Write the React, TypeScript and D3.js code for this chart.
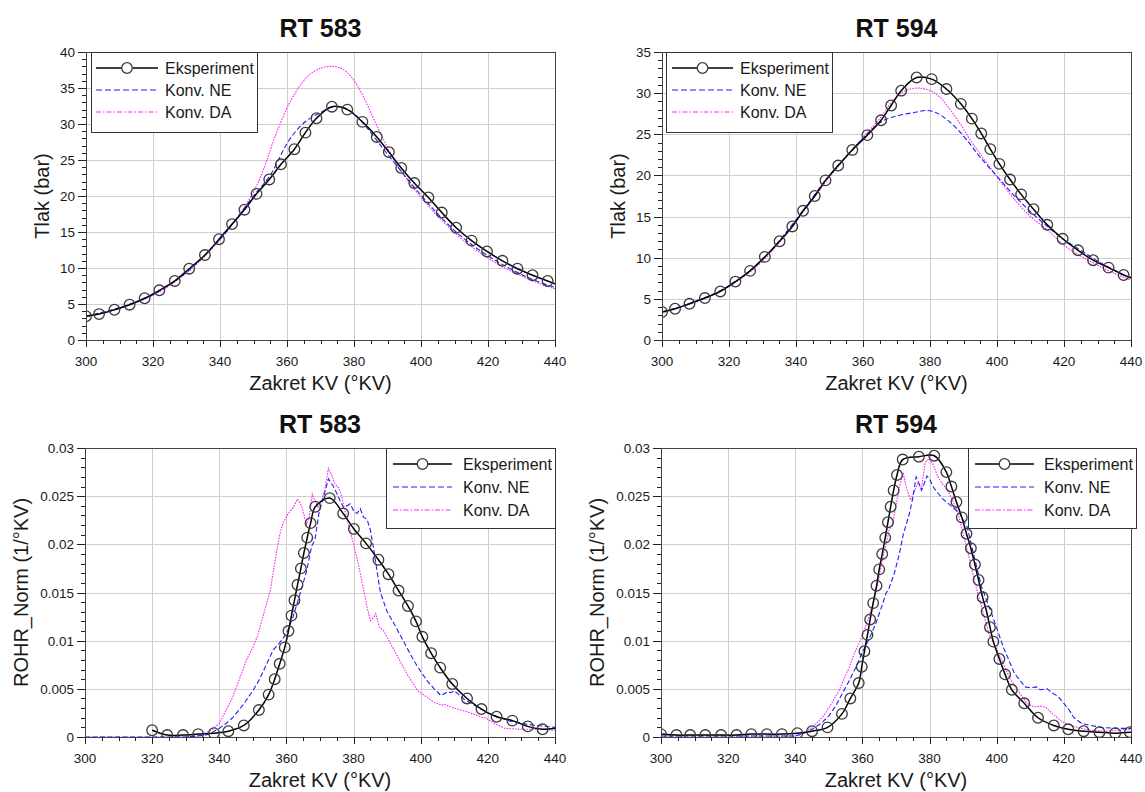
import React from 'react';
import * as d3 from 'd3';

// ---------- shared axis / text data ----------
const X_DOMAIN: [number, number] = [300, 440];
const X_TICKS = [300, 320, 340, 360, 380, 400, 420, 440];
const LEGEND_LABELS = ['Eksperiment', 'Konv. NE', 'Konv. DA'];
const X_LABEL = 'Zakret KV (°KV)';
const Y_LABEL_P = 'Tlak (bar)';
const Y_LABEL_R = 'ROHR_Norm (1/°KV)';
const TITLE_583 = 'RT 583';
const TITLE_594 = 'RT 594';
const P_TICKS_583 = [0, 5, 10, 15, 20, 25, 30, 35, 40];
const P_TICKS_594 = [0, 5, 10, 15, 20, 25, 30, 35];
const R_TICKS = [0, 0.005, 0.01, 0.015, 0.02, 0.025, 0.03];

// ---------- RT 583 pressure ----------
const P583_EXP_X = [300, 303.9, 308.5, 313, 317.5, 321.9, 326.5, 330.8, 335.5, 339.7, 343.6, 347.3, 350.9, 354.7, 358.2, 362.2, 365.5, 368.8, 373.4, 378, 382.5, 386.8, 390.4, 394.1, 398, 402.2, 406.2, 410.5, 415.1, 419.7, 424.3, 428.8, 433.3, 437.8];
const P583_EXP_Y = [3.3, 3.6, 4.2, 4.9, 5.8, 6.9, 8.2, 9.9, 11.8, 14.0, 16.1, 18.1, 20.3, 22.3, 24.4, 26.5, 28.8, 30.8, 32.4, 32.0, 30.3, 28.2, 26.1, 23.9, 21.8, 19.8, 17.7, 15.6, 13.8, 12.3, 11.0, 9.9, 9.0, 8.2];
const P583_EXP_TAIL_X = [440];
const P583_EXP_TAIL_Y = [7.8];
const P583_NE_X = [300, 310, 320, 330, 340, 345, 350, 355, 360, 363, 366, 370, 374, 378, 382, 386, 390, 395, 400, 405, 410, 415, 420, 425, 430, 435, 440];
const P583_NE_Y = [3.3, 4.5, 6.3, 9.4, 14.0, 16.9, 20.0, 22.9, 27.3, 29.2, 30.5, 31.6, 32.4, 32.1, 30.5, 28.2, 25.8, 22.9, 20.1, 17.5, 15.2, 13.3, 11.7, 10.3, 9.1, 8.1, 7.3];
const P583_DA_X = [300, 310, 320, 330, 340, 345, 349.2, 352.5, 356.8, 361.2, 365.5, 368.8, 372.5, 376.3, 379.6, 382.8, 386.1, 389.4, 392.6, 397, 400, 405, 410, 415, 420, 425, 430, 435, 440];
const P583_DA_Y = [3.2, 4.4, 6.2, 9.3, 13.9, 16.9, 19.9, 23.1, 28.7, 33.3, 36.3, 37.5, 38.0, 37.7, 36.3, 33.8, 30.5, 27.3, 24.5, 21.6, 19.8, 17.2, 14.9, 13.0, 11.4, 10.0, 8.9, 7.9, 7.1];

// ---------- RT 594 pressure ----------
const P594_EXP_X = [300, 303.9, 308.2, 312.8, 317.4, 321.9, 326.3, 330.7, 335.1, 338.9, 342.1, 345.6, 348.8, 352.6, 356.8, 361.3, 365.4, 368.4, 371.4, 376, 380.5, 384.9, 389.2, 392.5, 395.3, 398, 400.7, 403.9, 407.2, 410.9, 415, 419.6, 424.2, 428.7, 433.3, 437.8];
const P594_EXP_Y = [3.4, 3.8, 4.4, 5.1, 5.9, 7.1, 8.4, 10.1, 12.0, 13.8, 15.7, 17.5, 19.4, 21.2, 23.1, 24.9, 26.7, 28.5, 30.3, 31.9, 31.7, 30.5, 28.7, 26.9, 25.1, 23.2, 21.4, 19.5, 17.7, 15.9, 14.0, 12.3, 10.9, 9.7, 8.8, 7.9];
const P594_EXP_TAIL_X = [440];
const P594_EXP_TAIL_Y = [7.6];
const P594_NE_X = [300, 310, 320, 330, 340, 350, 360, 365, 368, 372, 376, 379, 382, 385, 388, 391, 395, 400, 405, 410, 415, 420, 425, 430, 435, 440];
const P594_NE_Y = [3.4, 4.7, 6.6, 9.8, 14.6, 20.0, 24.5, 26.4, 27.0, 27.4, 27.7, 27.9, 27.6, 26.8, 25.7, 24.3, 22.2, 19.9, 17.6, 15.6, 13.8, 12.2, 10.9, 9.6, 8.5, 7.5];
const P594_DA_X = [300, 310, 320, 330, 340, 350, 360, 365, 368, 371, 374, 377, 380, 383, 386, 389, 392, 395, 398, 401, 405, 410, 415, 420, 425, 430, 435, 440];
const P594_DA_Y = [3.3, 4.6, 6.5, 9.6, 14.4, 19.8, 24.6, 26.9, 28.6, 29.9, 30.5, 30.6, 30.3, 29.5, 28.0, 26.3, 24.3, 22.6, 20.9, 19.3, 17.2, 15.0, 13.4, 11.5, 10.2, 9.1, 8.1, 7.3];

// ---------- RT 583 ROHR ----------
const R583_EXP_X = [320, 324.5, 329.2, 333.7, 338.4, 342.7, 347.3, 351.8, 354.7, 356.5, 358.0, 359.5, 360.6, 361.5, 362.4, 363.3, 364.3, 365.2, 366.2, 367.2, 368.6, 372.9, 376.9, 380.1, 383.7, 387.4, 390.4, 393.4, 396.2, 398.6, 400.5, 403.1, 405.8, 409.4, 413.8, 418.1, 422.6, 427.3, 431.9, 436.3];
const R583_EXP_Y = [0.0007, 0.0002, 0.0002, 0.0003, 0.0004, 0.0006, 0.0012, 0.0028, 0.0044, 0.006, 0.0076, 0.0093, 0.011, 0.0126, 0.0142, 0.0158, 0.0175, 0.0191, 0.0207, 0.0222, 0.0239, 0.0248, 0.0232, 0.0216, 0.0201, 0.0184, 0.0169, 0.0152, 0.0136, 0.012, 0.0104, 0.0087, 0.0072, 0.0055, 0.004, 0.0029, 0.0021, 0.0017, 0.0011, 0.0008];
const R583_EXP_TAIL_X = [440];
const R583_EXP_TAIL_Y = [0.0009];
const R583_NE_X = [300, 330, 336, 338, 340, 342, 344, 347, 350, 352, 354, 356, 358, 360, 362, 364, 366, 367.5, 368.5, 369.8, 371, 372.5, 374, 375, 376, 377, 378, 379, 380, 381, 382, 383, 384, 385, 386, 387, 388, 390, 392, 394, 396, 398, 400, 402, 404, 406, 407, 408, 409, 410, 411, 413, 416, 420, 426, 432, 440];
const R583_NE_Y = [0, 0, 0.0002, 0.0005, 0.0009, 0.0014, 0.002, 0.0033, 0.0048, 0.006, 0.0075, 0.009, 0.0098, 0.0107, 0.0125, 0.0148, 0.0172, 0.0198, 0.0205, 0.0235, 0.0248, 0.0268, 0.026, 0.0253, 0.0245, 0.0238, 0.024, 0.0242, 0.0235, 0.0232, 0.0237, 0.0228, 0.0226, 0.0215, 0.0195, 0.0172, 0.015, 0.013, 0.0118, 0.0105, 0.0092, 0.0079, 0.0068, 0.0058, 0.005, 0.0043, 0.0045, 0.0047, 0.0046, 0.0048, 0.0045, 0.0039, 0.0033, 0.0025, 0.0017, 0.0013, 0.001];
const R583_DA_X = [300, 332, 335, 338, 340, 343.8, 346, 348.1, 350, 351.4, 353, 355.2, 356.8, 358, 359, 360.5, 362, 363.3, 364.5, 366, 366.8, 367.7, 368.5, 369.5, 370.5, 371.5, 372.5, 373.5, 374.5, 375.3, 376.3, 377.4, 378.7, 380, 381.4, 382.8, 384, 385, 386, 386.6, 387.7, 389, 391, 393.7, 396, 399.1, 402, 404, 406.2, 407, 409, 411, 414, 417, 419.7, 422, 425, 430, 435, 440];
const R583_DA_Y = [0, 0, 0.0002, 0.0008, 0.0014, 0.004, 0.006, 0.008, 0.0093, 0.0105, 0.0125, 0.0152, 0.0187, 0.021, 0.0222, 0.0232, 0.0238, 0.0247, 0.024, 0.0221, 0.0228, 0.0252, 0.0245, 0.0238, 0.0245, 0.0258, 0.0279, 0.0272, 0.0262, 0.026, 0.0252, 0.0235, 0.0218, 0.02, 0.018, 0.0156, 0.0135, 0.0121, 0.0124, 0.0128, 0.0114, 0.011, 0.0097, 0.008, 0.0065, 0.0048, 0.0041, 0.0036, 0.0033, 0.0034, 0.0031, 0.0029, 0.0026, 0.0022, 0.0019, 0.0014, 0.0009, 0.0008, 0.0008, 0.0007];

// ---------- RT 594 ROHR ----------
const R594_EXP_X = [300, 304.6, 308.7, 313.2, 317.9, 322.5, 326.9, 331.5, 336, 340.6, 345, 349.6, 353.9, 356.4, 358.9, 359.8, 360.6, 361.5, 362.3, 363.2, 364.2, 365, 365.9, 366.8, 367.6, 368.4, 369.3, 370.3, 372, 376.8, 381.4, 385, 386.5, 388, 389.6, 391, 392.3, 393.5, 394.6, 395.8, 397, 398, 399, 400.8, 402.5, 404.5, 408.2, 412.3, 417, 421.3, 425.9, 430.6, 435.3, 439.7];
const R594_EXP_Y = [0.0003, 0.0002, 0.0002, 0.0002, 0.0002, 0.0002, 0.0003, 0.0003, 0.0003, 0.0004, 0.0006, 0.001, 0.0024, 0.004, 0.0056, 0.0073, 0.0089, 0.0106, 0.0122, 0.0139, 0.0157, 0.0174, 0.019, 0.0207, 0.0223, 0.0239, 0.0256, 0.0272, 0.0288, 0.0291, 0.0292, 0.0275, 0.026, 0.0244, 0.0228, 0.0211, 0.0196, 0.0179, 0.0163, 0.0145, 0.013, 0.0114, 0.0099, 0.0081, 0.0065, 0.0049, 0.0035, 0.002, 0.0012, 0.0008, 0.0006, 0.0005, 0.0004, 0.0005];
const R594_EXP_TAIL_X = [440];
const R594_EXP_TAIL_Y = [0.0005];
const R594_NE_X = [300, 340, 342, 345, 348, 350, 352, 354, 356, 358, 360, 362, 364, 366, 367, 368, 369.5, 371, 372.2, 373, 374, 375, 376, 377, 377.6, 378.3, 379.2, 380, 381, 382.5, 384, 385.7, 387, 389, 391.2, 393.3, 395.5, 398.8, 402, 405.3, 408.5, 410, 411.8, 413, 415, 416.5, 418.3, 420, 421.6, 423, 425.3, 428, 431.3, 435, 440];
const R594_NE_Y = [0.0001, 0.0001, 0.0003, 0.0008, 0.0015, 0.0022, 0.0032, 0.0045, 0.0058, 0.0072, 0.0088, 0.0102, 0.0118, 0.0138, 0.0149, 0.0155, 0.017, 0.019, 0.0211, 0.022, 0.0232, 0.0248, 0.027, 0.0262, 0.0256, 0.0262, 0.0271, 0.0268, 0.026, 0.0253, 0.0247, 0.0242, 0.0238, 0.0232, 0.0218, 0.0187, 0.0156, 0.0125, 0.0093, 0.0066, 0.0052, 0.0051, 0.0052, 0.0049, 0.005, 0.0046, 0.0042, 0.0035, 0.0028, 0.002, 0.0014, 0.0012, 0.001, 0.0009, 0.0009];
const R594_DA_X = [300, 340, 343, 345, 348, 350, 353, 356, 358, 360, 362, 364, 366, 368, 369, 370, 371, 372.2, 373, 374.3, 375.5, 376.5, 377.6, 378.7, 379.8, 381, 382.5, 384, 385.5, 386.8, 388.5, 390, 391.5, 393.3, 395.5, 397.7, 400, 402, 404, 406.4, 409, 411.2, 413, 414.5, 416.7, 419.4, 422, 425, 428, 432, 436, 440];
const R594_DA_Y = [0.0001, 0.0001, 0.0005, 0.001, 0.002, 0.003, 0.0048, 0.0072, 0.009, 0.0105, 0.0125, 0.015, 0.0185, 0.0215, 0.022, 0.024, 0.026, 0.0273, 0.026, 0.0246, 0.0255, 0.0263, 0.0258, 0.0285, 0.0289, 0.0283, 0.027, 0.0262, 0.0255, 0.0246, 0.0232, 0.0211, 0.019, 0.0163, 0.0135, 0.0107, 0.0091, 0.0076, 0.006, 0.0048, 0.0035, 0.0031, 0.0032, 0.0031, 0.0024, 0.0016, 0.0012, 0.0009, 0.0007, 0.0006, 0.0007, 0.0008];

const FONT = "'Liberation Sans', Arial, Helvetica, sans-serif";
const COL_NE = '#1f1fff';
const COL_DA = '#ff22ff';

type Box = { L: number; R: number; T: number; B: number };
type Leg = { x: number; y: number; w: number; h: number; l0: number; l1: number; tx: number; rows: number[] };
type Cfg = {
  id: string; title: string; box: Box; yMax: number; yTicks: number[]; yMinor: number[];
  yFmt: (v: number) => string; yLabel: string; yLabelX: number; smooth: boolean;
  exp: [number[], number[]]; tail: [number[], number[]]; ne: [number[], number[]]; da: [number[], number[]];
  leg: Leg;
};

const fmtR = (v: number) => (v === 0 ? '0' : String(+v.toFixed(3)));
const fmtP = (v: number) => String(v);

const CONFIGS: Cfg[] = [
  {
    id: 'p1', title: TITLE_583, box: { L: 86, R: 555, T: 52, B: 340 }, yMax: 40, yTicks: P_TICKS_583,
    yMinor: d3.range(0, 41, 1), yFmt: fmtP, yLabel: Y_LABEL_P, yLabelX: 49, smooth: true,
    exp: [P583_EXP_X, P583_EXP_Y], tail: [P583_EXP_TAIL_X, P583_EXP_TAIL_Y], ne: [P583_NE_X, P583_NE_Y], da: [P583_DA_X, P583_DA_Y],
    leg: { x: 91, y: 52, w: 166, h: 80, l0: 96, l1: 158, tx: 165, rows: [68, 90, 112] },
  },
  {
    id: 'p2', title: TITLE_594, box: { L: 662, R: 1131, T: 52, B: 340 }, yMax: 35, yTicks: P_TICKS_594,
    yMinor: d3.range(0, 36, 1), yFmt: fmtP, yLabel: Y_LABEL_P, yLabelX: 625, smooth: true,
    exp: [P594_EXP_X, P594_EXP_Y], tail: [P594_EXP_TAIL_X, P594_EXP_TAIL_Y], ne: [P594_NE_X, P594_NE_Y], da: [P594_DA_X, P594_DA_Y],
    leg: { x: 666, y: 52, w: 166, h: 80, l0: 672, l1: 733, tx: 740, rows: [68, 90, 112] },
  },
  {
    id: 'p3', title: TITLE_583, box: { L: 85, R: 555, T: 448, B: 737 }, yMax: 0.03, yTicks: R_TICKS,
    yMinor: d3.range(0, 31, 1).map((i) => i * 0.001), yFmt: fmtR, yLabel: Y_LABEL_R, yLabelX: 28, smooth: false,
    exp: [R583_EXP_X, R583_EXP_Y], tail: [R583_EXP_TAIL_X, R583_EXP_TAIL_Y], ne: [R583_NE_X, R583_NE_Y], da: [R583_DA_X, R583_DA_Y],
    leg: { x: 386, y: 448, w: 169, h: 80, l0: 393, l1: 452, tx: 463, rows: [464, 487, 510] },
  },
  {
    id: 'p4', title: TITLE_594, box: { L: 661, R: 1131, T: 448, B: 737 }, yMax: 0.03, yTicks: R_TICKS,
    yMinor: d3.range(0, 31, 1).map((i) => i * 0.001), yFmt: fmtR, yLabel: Y_LABEL_R, yLabelX: 604, smooth: false,
    exp: [R594_EXP_X, R594_EXP_Y], tail: [R594_EXP_TAIL_X, R594_EXP_TAIL_Y], ne: [R594_NE_X, R594_NE_Y], da: [R594_DA_X, R594_DA_Y],
    leg: { x: 968, y: 448, w: 168, h: 80, l0: 975, l1: 1034, tx: 1044, rows: [464, 487, 510] },
  },
];

function Panel({ c }: { c: Cfg }) {
  const { L, R, T, B } = c.box;
  const x = d3.scaleLinear().domain(X_DOMAIN).range([L, R]);
  const y = d3.scaleLinear().domain([0, c.yMax]).range([B, T]);
  const mk = (xs: number[], ys: number[], curve: d3.CurveFactory) =>
    d3.line<[number, number]>().x((d) => x(d[0])).y((d) => y(d[1])).curve(curve)(d3.zip(xs, ys) as [number, number][]) || '';
  const sideCurve = c.smooth ? d3.curveCatmullRom : d3.curveLinear;
  const expPath = mk(c.exp[0].concat(c.tail[0]), c.exp[1].concat(c.tail[1]), d3.curveCatmullRom);
  const nePath = mk(c.ne[0], c.ne[1], sideCurve);
  const daPath = mk(c.da[0], c.da[1], sideCurve);
  const xMinor = d3.range(300, 441, 5).filter((v) => !X_TICKS.includes(v));
  const r = (v: number) => Math.round(v) + 0.5;
  const cx = (L + R) / 2;
  const cy = (T + B) / 2;
  return (
    <g>
      <defs>
        <clipPath id={`clip-${c.id}`}>
          <rect x={L} y={T} width={R - L} height={B - T} />
        </clipPath>
      </defs>
      {/* grid */}
      <g stroke="#cfcfcf" strokeWidth={1} shapeRendering="crispEdges">
        {X_TICKS.slice(1, -1).map((v) => (
          <line key={'gx' + v} x1={r(x(v))} x2={r(x(v))} y1={T} y2={B} />
        ))}
        {c.yTicks.slice(1, -1).map((v) => (
          <line key={'gy' + v} x1={L} x2={R} y1={r(y(v))} y2={r(y(v))} />
        ))}
      </g>
      {/* series */}
      <g clipPath={`url(#clip-${c.id})`} fill="none">
        <path d={daPath} stroke={COL_DA} strokeWidth={1.1} strokeDasharray="1.6,1.2" />
        <path d={nePath} stroke={COL_NE} strokeWidth={1.1} strokeDasharray="5,2.5" />
        <path d={expPath} stroke="#000" strokeWidth={1.5} />
        {c.exp[0].map((v, i) => (
          <circle key={'m' + i} cx={x(v)} cy={y(c.exp[1][i])} r={5.3} stroke="#3a3a3a" strokeWidth={1.3} fill="none" />
        ))}
      </g>
      {/* frame */}
      <rect x={L + 0.5} y={T + 0.5} width={R - L} height={B - T} fill="none" stroke="#444" strokeWidth={1} shapeRendering="crispEdges" />
      {/* ticks */}
      <g stroke="#222" strokeWidth={1} shapeRendering="crispEdges">
        {X_TICKS.map((v) => (
          <line key={'tx' + v} x1={r(x(v))} x2={r(x(v))} y1={B} y2={B + 7} />
        ))}
        {xMinor.map((v) => (
          <line key={'mx' + v} x1={r(x(v))} x2={r(x(v))} y1={B} y2={B + 4} />
        ))}
        {c.yTicks.map((v) => (
          <line key={'ty' + v} x1={L - 8} x2={L} y1={r(y(v))} y2={r(y(v))} />
        ))}
        {c.yMinor.map((v, i) => (
          <line key={'my' + i} x1={L - 4} x2={L} y1={r(y(v))} y2={r(y(v))} />
        ))}
      </g>
      {/* tick labels */}
      <g fontFamily={FONT} fontSize={13.5} fill="#1a1a1a">
        {X_TICKS.map((v) => (
          <text key={'lx' + v} x={x(v)} y={B + 26} textAnchor="middle">{v}</text>
        ))}
        {c.yTicks.map((v) => (
          <text key={'ly' + v} x={L - 11} y={y(v) + 5} textAnchor="end">{c.yFmt(v)}</text>
        ))}
      </g>
      {/* titles */}
      <text x={cx} y={T - 15} textAnchor="middle" fontFamily={FONT} fontWeight="bold" fontSize={25} fill="#111">{c.title}</text>
      <text x={cx} y={B + 50} textAnchor="middle" fontFamily={FONT} fontSize={20} fill="#1a1a1a">{X_LABEL}</text>
      <text transform={`translate(${c.yLabelX},${cy}) rotate(-90)`} textAnchor="middle" fontFamily={FONT} fontSize={20} fill="#1a1a1a">{c.yLabel}</text>
      {/* legend */}
      <g>
        <rect x={c.leg.x + 0.5} y={c.leg.y + 0.5} width={c.leg.w} height={c.leg.h} fill="#fff" stroke="#333" strokeWidth={1} shapeRendering="crispEdges" />
        <line x1={c.leg.l0} x2={c.leg.l1} y1={c.leg.rows[0]} y2={c.leg.rows[0]} stroke="#000" strokeWidth={1.3} />
        <circle cx={(c.leg.l0 + c.leg.l1) / 2} cy={c.leg.rows[0]} r={5.3} fill="#fff" stroke="#3a3a3a" strokeWidth={1.3} />
        <line x1={c.leg.l0} x2={c.leg.l1} y1={c.leg.rows[1]} y2={c.leg.rows[1]} stroke={COL_NE} strokeWidth={1.1} strokeDasharray="6,3" />
        <line x1={c.leg.l0} x2={c.leg.l1} y1={c.leg.rows[2]} y2={c.leg.rows[2]} stroke={COL_DA} strokeWidth={1.1} strokeDasharray="5,2,1.5,2" />
        {LEGEND_LABELS.map((t, i) => (
          <text key={t} x={c.leg.tx} y={c.leg.rows[i] + 6} fontFamily={FONT} fontSize={16} fill="#1a1a1a">{t}</text>
        ))}
      </g>
    </g>
  );
}

export default function App() {
  return (
    <svg width={1145} height={792} style={{ position: 'absolute', left: 0, top: 0, background: '#fff' }}>
      <rect width={1145} height={792} fill="#fff" />
      {CONFIGS.map((c) => (
        <Panel key={c.id} c={c} />
      ))}
    </svg>
  );
}
